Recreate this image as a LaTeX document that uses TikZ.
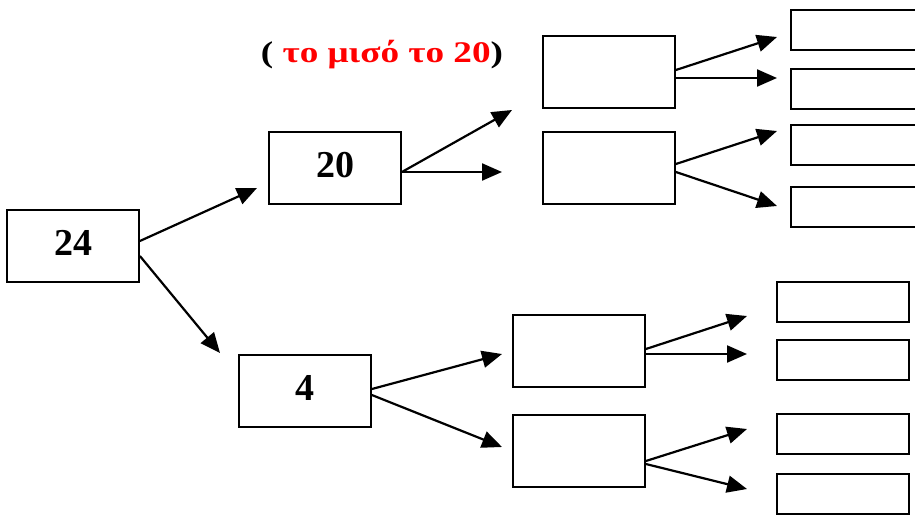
\documentclass[tikz,border=0pt]{standalone}
\usepackage{fontspec}
\setmainfont{Liberation Serif}
\usetikzlibrary{arrows.meta}
\begin{document}
\begin{tikzpicture}[x=1pt, y=-1pt,
    box/.style={draw, line width=1.8pt, minimum width=132pt, minimum height=72pt, inner sep=0pt, text depth=6pt, font=\fontsize{38}{44}\selectfont\bfseries},
    slot/.style={draw, line width=1.8pt, minimum width=132pt, minimum height=40pt, inner sep=0pt},
    arr/.style={line width=2.2pt, -{Triangle[length=20pt, width=17pt]}}]
    \useasboundingbox (0, 0) rectangle (915, 514);
    % boxes
    \node[box] (top) at (73, 246) {24};
    \node[box] (twenty) at (335, 168) {20};
    \node[box] (four) at (305, 391) {4};
    \node[box] (d1) at (609, 72) {};
    \node[box] (d2) at (609, 168) {};
    \node[box] (e1) at (579, 351) {};
    \node[box] (e2) at (579, 451) {};
    \node[slot] (r1) at (857, 30) {};
    \node[slot] (r2) at (857, 89) {};
    \node[slot] (r3) at (857, 145) {};
    \node[slot] (r4) at (857, 207) {};
    \node[slot] (s1) at (843, 302) {};
    \node[slot] (s2) at (843, 360) {};
    \node[slot] (s3) at (843, 434) {};
    \node[slot] (s4) at (843, 494) {};
    \node[font=\fontsize{30}{36}\selectfont\bfseries] (half) at (382, 55) {\scalebox{1.24}[1]{( \textcolor{red}{το μισό το 20})}};
    % arrow ends
    \coordinate (twenty-in) at (257, 188);
    \coordinate (four-in) at (220, 353);
    \coordinate (d1-in) at (512, 110);
    \coordinate (d2-in) at (502, 172);
    \coordinate (e1-in) at (502, 354);
    \coordinate (e2-in) at (502, 447);
    \coordinate (r1-in) at (777, 37);
    \coordinate (r2-in) at (777, 78);
    \coordinate (r3-in) at (777, 131);
    \coordinate (r4-in) at (777, 206);
    \coordinate (s1-in) at (747, 316);
    \coordinate (s2-in) at (747, 354);
    \coordinate (s3-in) at (747, 429);
    \coordinate (s4-in) at (747, 489);
    % arrows
    \draw[arr] ([yshift=5pt]top.east) -- (twenty-in);
    \draw[arr] ([yshift=-10pt]top.east) -- (four-in);
    \draw[arr] ([yshift=-4pt]twenty.east) -- (d1-in);
    \draw[arr] ([yshift=-4pt]twenty.east) -- (d2-in);
    \draw[arr] ([yshift=2pt]four.east) -- (e1-in);
    \draw[arr] ([yshift=-4pt]four.east) -- (e2-in);
    \draw[arr] ([yshift=2pt]d1.east) -- (r1-in);
    \draw[arr] ([yshift=-6pt]d1.east) -- (r2-in);
    \draw[arr] ([yshift=4pt]d2.east) -- (r3-in);
    \draw[arr] ([yshift=-4pt]d2.east) -- (r4-in);
    \draw[arr] ([yshift=2pt]e1.east) -- (s1-in);
    \draw[arr] ([yshift=-3pt]e1.east) -- (s2-in);
    \draw[arr] ([yshift=-10pt]e2.east) -- (s3-in);
    \draw[arr] ([yshift=-13pt]e2.east) -- (s4-in);
\end{tikzpicture}
\end{document}
